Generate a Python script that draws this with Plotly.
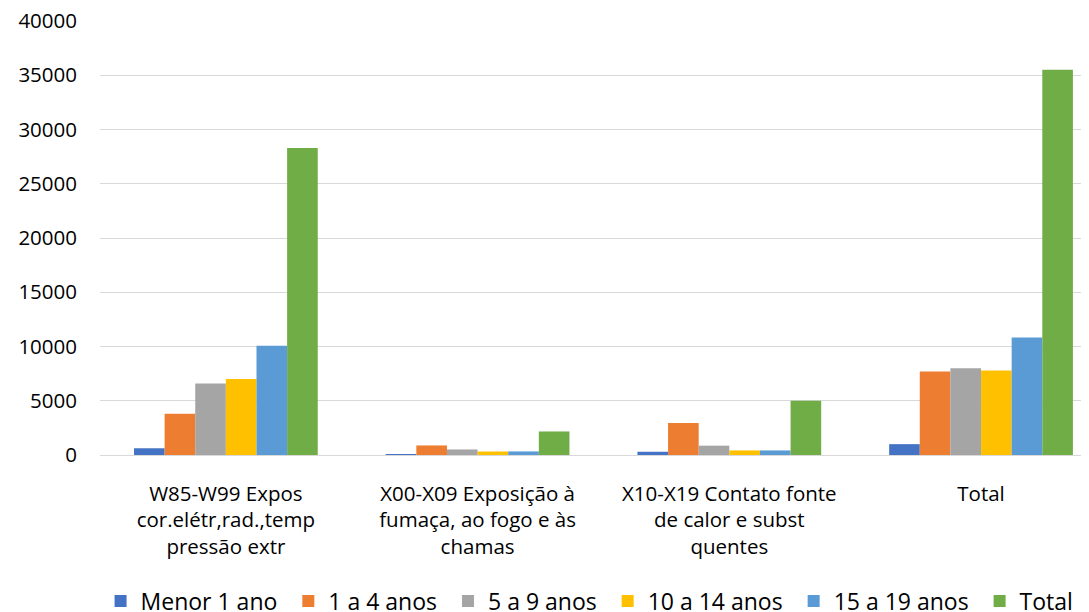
import plotly.graph_objects as go

categories = [
    "W85-W99 Expos<br>cor.elétr,rad.,temp<br>pressão extr",
    "X00-X09 Exposição à<br>fumaça, ao fogo e às<br>chamas",
    "X10-X19 Contato fonte<br>de calor e subst<br>quentes",
    "Total",
]
menor_1_ano = [620, 80, 300, 1000]
de_1_a_4 = [3810, 880, 2950, 7690]
de_5_a_9 = [6600, 510, 860, 7990]
de_10_a_14 = [7000, 320, 420, 7780]
de_15_a_19 = [10070, 330, 420, 10830]
total = [28300, 2170, 5000, 35500]

series = [
    ("Menor 1 ano", menor_1_ano, "#4472C4"),
    ("1 a 4 anos", de_1_a_4, "#ED7D31"),
    ("5 a 9 anos", de_5_a_9, "#A5A5A5"),
    ("10 a 14 anos", de_10_a_14, "#FFC000"),
    ("15 a 19 anos", de_15_a_19, "#5B9BD5"),
    ("Total", total, "#70AD47"),
]

pad = "\u00a0"
fig = go.Figure()
for i, (name, vals, color) in enumerate(series):
    label = name + (pad if i < len(series) - 1 else "")
    fig.add_trace(go.Bar(name=label, x=categories, y=vals, marker_color=color,
                         marker_line_width=0))

font_family = "Open Sans, Liberation Sans, sans-serif"
fig.update_layout(
    barmode="group",
    bargap=0.27,
    bargroupgap=0,
    width=1081,
    height=604,
    margin=dict(l=92, r=4, t=13, b=157, autoexpand=False),
    paper_bgcolor="white",
    plot_bgcolor="white",
    font=dict(family=font_family, size=20, color="#000000"),
    legend=dict(orientation="h", x=0.538, xanchor="center", xref="container",
                y=0.018, yanchor="middle", yref="container",
                font=dict(size=23), itemwidth=30, traceorder="normal"),
    xaxis=dict(showgrid=False, showline=False, ticks="", tickfont=dict(size=20.5),
               ticklabelstandoff=24, range=[-0.5, 3.413]),
    yaxis=dict(range=[0, 40000], dtick=5000, showgrid=True, gridcolor="#D9D9D9",
               gridwidth=1, zeroline=True, zerolinecolor="#D9D9D9", zerolinewidth=1,
               showline=False, ticks="", ticklabelstandoff=22,
               ticklabeloverflow="allow",
               tickformat="d", tickfont=dict(size=20.5)),
)

fig.write_html("out.html")
